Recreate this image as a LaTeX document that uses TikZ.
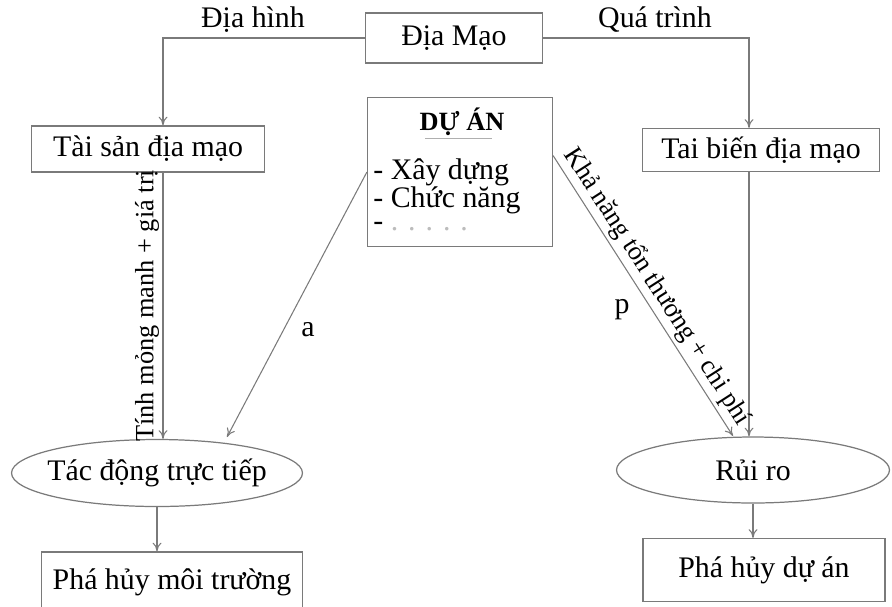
\documentclass[tikz,border=0pt]{standalone}
\usepackage{fontspec}
\setmainfont{Liberation Serif}
\usetikzlibrary{arrows.meta, positioning, shapes.geometric}

\definecolor{linegray}{HTML}{7A7A7A}

\begin{document}
\begin{tikzpicture}[x=0.02cm,y=-0.02cm,font=\fontsize{17}{20}\selectfont,
    box/.style={rectangle,draw=linegray,line width=0.7pt,inner sep=0pt},
    oval/.style={ellipse,draw=linegray,line width=0.7pt,inner xsep=-2mm,inner ysep=0pt},
    item/.style={anchor=west,inner sep=0pt},
    lbl/.style={inner sep=2pt,font=\fontsize{15}{18}\selectfont},
    edge/.style={draw=linegray,line width=0.6pt,-{To[length=5pt,width=5pt]}}]
    \useasboundingbox (0,0) rectangle (892,606);
    \clip (0,0) rectangle (892,606);

    \node[box,minimum width=3.54cm,minimum height=1cm] (diamao) at (454,38) {Địa Mạo};
    \node[box,minimum width=4.66cm,minimum height=0.92cm] (taisan) at (148,149) {Tài sản địa mạo};
    \node[box,minimum width=4.74cm,minimum height=0.86cm] (taibien) at (761,150) {Tai biến địa mạo};
    \node[box,minimum width=3.7cm,minimum height=2.98cm] (duan) at (460,172) {};
    \node[font={\fontsize{15}{18}\selectfont\bfseries}] (duantitle) at (462,122) {DỰ ÁN};
    \draw[linegray!60,line width=0.5pt] (425,138) -- (492,138);
    \node[item] (xaydung) at (373,172) {- Xây dựng};
    \node[item] (chucnang) at (373,200) {- Chức năng};
    \node[item] (khac) at (373,227) {- \textcolor{linegray!50}{. . . . .}};

    \node[oval,minimum width=5.82cm,minimum height=1.34cm] (tdong) at (157,473) {Tác động trực tiếp};
    \node[oval,minimum width=5.46cm,minimum height=1.32cm] (ruiro) at (753,470) {Rủi ro};
    \node[box,minimum width=5.22cm,minimum height=1.2cm] (phamt) at (172,582) {Phá hủy môi trường};
    \node[box,minimum width=4.84cm,minimum height=1.26cm] (phada) at (764,570) {Phá hủy dự án};

    \node (diahinh) at (253,20) {Địa hình};
    \node (quatrinh) at (655,20) {Quá trình};
    \node (a) at (308,330) {a};
    \node (p) at (622,310) {p};

    \coordinate (ltop) at (163,38);
    \coordinate (rtop) at (749,38);
    \coordinate (aend) at (227,437);
    \coordinate (pend) at (733,436);

    \draw[edge] (diamao.west) -- (ltop) -- (ltop |- taisan.north);
    \draw[edge] (diamao.east) -- (rtop) -- (rtop |- taibien.north);
    \draw[edge] (ltop |- taisan.south) -- (ltop |- tdong.north)
        node[lbl,midway,rotate=90,anchor=south] {Tính mỏng manh + giá trị};
    \draw[edge] (rtop |- taibien.south) -- (rtop |- ruiro.north);
    \draw[edge] (duan.west) -- (aend);
    \draw[edge] (duan.10) -- (pend)
        node[lbl,midway,sloped,above] {Khả năng tổn thương + chi phí};
    \draw[edge] (tdong.south) -- (tdong.south |- phamt.north);
    \draw[edge] (ruiro.south) -- (ruiro.south |- phada.north);
\end{tikzpicture}
\end{document}
